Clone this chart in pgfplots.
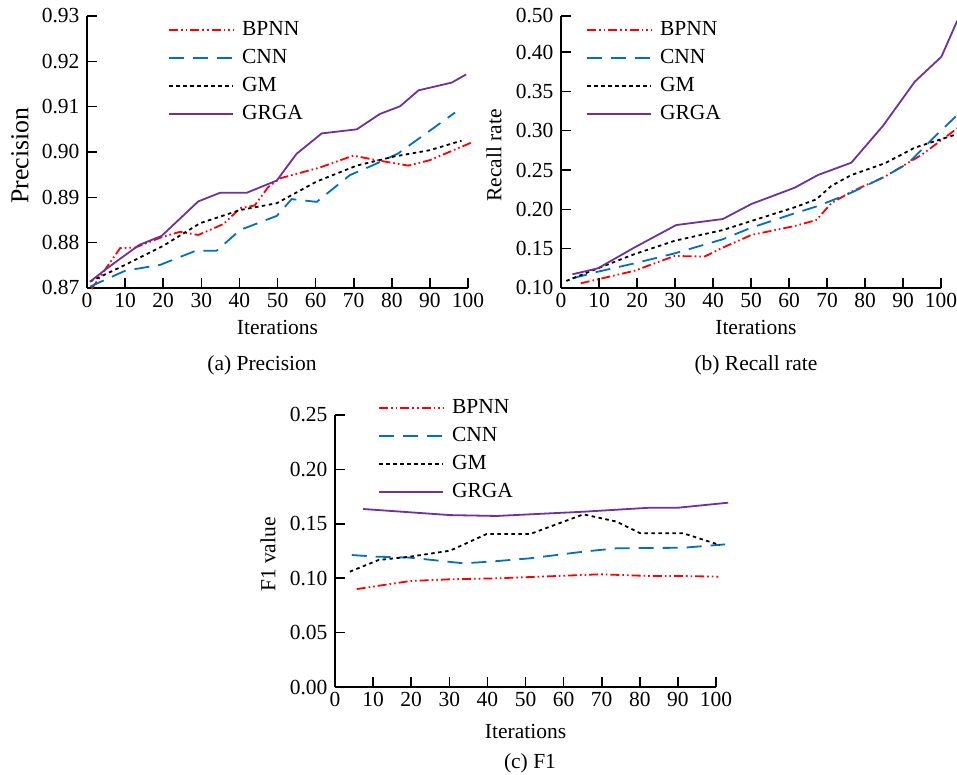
\documentclass[border=0pt]{standalone}
\usepackage{fontspec}
\setmainfont{Liberation Serif}
\usepackage{pgfplots}
\pgfplotsset{compat=1.18}

\definecolor{cR}{RGB}{255,0,0}
\definecolor{cB}{RGB}{0,112,192}
\definecolor{cP}{RGB}{112,48,160}

\newcommand{\fnt}{\fontsize{21.5pt}{26pt}\selectfont}

\pgfplotsset{
  panel/.style={
    scale only axis, width=381pt, height=272pt,
    axis lines=left, axis line style={-, line width=1.6pt, black},
    tick align=inside, major tick length=10pt,
    tick style={black, line width=1.6pt},
    xmin=0, xmax=100,
    xtick={0,10,20,30,40,50,60,70,80,90,100},
    xticklabels={0,10,20,30,40,50,60,70,80,90,100},
    clip=false,
    font=\fnt,
    tick label style={font=\fnt},
    xticklabel style={yshift=-2pt},
    yticklabel style={xshift=-4pt},
    legend cell align=left,
    legend style={draw=none, fill=none, inner sep=0pt, column sep=8pt,
      row sep=7pt, anchor=north west,
      nodes={inner sep=0pt, text height=16pt, text depth=5pt}},
    legend image code/.code={\draw[##1] (0pt,0pt) -- (64pt,0pt);},
    xlabel=Iterations,
    xlabel style={at={(axis description cs:0.5,-0.147)}, anchor=center},
    ylabel style={at={(axis description cs:-0.176,0.487)}, anchor=center},
  },
  bp/.style={cR, line width=1.8pt, dash pattern=on 9pt off 3pt on 1.6pt off 3pt on 1.6pt off 3pt},
  cn/.style={cB, line width=1.8pt, dash pattern=on 15pt off 9pt},
  gm/.style={black, line width=1.8pt, dash pattern=on 3.5pt off 3.5pt},
  gr/.style={cP, line width=1.8pt},
}

\begin{document}
\begin{tikzpicture}

% (a) Precision
\begin{axis}[panel, at={(87pt,486pt)},
  ymin=0.87, ymax=0.93,
  ytick={0.87,0.88,0.89,0.90,0.91,0.92,0.93},
  yticklabels={0.87,0.88,0.89,0.90,0.91,0.92,0.93},
  ylabel={Precision},
  ylabel style={font=\fontsize{25.8pt}{30pt}\selectfont},
  legend style={at={(axis description cs:0.2126,0.987)}},
]
\addplot[bp] coordinates {(1.2,0.8698)(8.7,0.8788)(12.6,0.8789)(19.6,0.8812)(24.4,0.8824)(29.2,0.8817)(35.8,0.8841)(40.2,0.8876)(44,0.8882)(47.6,0.8923)(50.7,0.8942)(61.2,0.8966)(69.9,0.8992)(76,0.8982)(84.3,0.8970)(90,0.8982)(96.2,0.9004)(101.2,0.9022)};
\addplot[cn] coordinates {(0.8,0.8703)(10,0.8738)(19.2,0.8751)(28.5,0.8782)(34,0.8782)(40.2,0.8828)(49.8,0.8859)(53.7,0.8896)(60.3,0.8890)(69,0.8949)(75.1,0.8971)(81.7,0.8997)(96.6,0.9087)};
\addplot[gm] coordinates {(0.8,0.8714)(10,0.8751)(20,0.8793)(29.7,0.8843)(40.2,0.8872)(49.8,0.8887)(60.3,0.8935)(70.8,0.8970)(80.6,0.8990)(90,0.9004)(98.3,0.9025)};
\addplot[gr] coordinates {(0.8,0.8714)(5.2,0.8743)(13.7,0.8795)(19.6,0.8815)(29.2,0.8891)(34.9,0.8910)(41.9,0.8910)(49.8,0.8937)(55,0.8996)(61.6,0.9041)(70.8,0.9050)(76.9,0.9084)(82.2,0.9101)(87,0.9136)(95.7,0.9153)(99.5,0.9171)};
\legend{BPNN, CNN, GM, GRGA}
\end{axis}

% (b) Recall rate
\begin{axis}[panel, at={(561pt,486pt)}, width=380pt,
  ymin=0.10, ymax=0.4458,
  ytick={0.10,0.15,0.20,0.25,0.30,0.35,0.40,0.4458},
  yticklabels={0.10,0.15,0.20,0.25,0.30,0.35,0.40,0.50},
  ylabel={Recall rate},
  xlabel style={at={(axis description cs:0.513,-0.147)}},
  legend style={at={(axis description cs:0.0658,0.987)}},
]
\addplot[bp] coordinates {(5.2,0.106)(9.7,0.111)(19.4,0.122)(29.9,0.1407)(37.8,0.140)(42.2,0.1505)(50.1,0.1674)(61.5,0.1788)(67.2,0.1864)(71.1,0.2077)(76.4,0.2224)(85.2,0.2415)(94.8,0.269)(104.3,0.303)};
\addplot[cn] coordinates {(3,0.1123)(9.7,0.1207)(19.4,0.1314)(29.9,0.144)(42.6,0.162)(50.1,0.1767)(61.5,0.195)(67.6,0.2042)(76.4,0.2212)(85.2,0.2415)(91.3,0.2585)(94.8,0.2754)(98.3,0.2923)(104.3,0.32)};
\addplot[gm] coordinates {(1.4,0.109)(9.7,0.125)(19.4,0.1432)(29.9,0.160)(42.6,0.1737)(50.1,0.1852)(61.5,0.2026)(67.2,0.2127)(71.1,0.2297)(76.4,0.2436)(85.2,0.2585)(93.1,0.2784)(104.3,0.2957)};
\addplot[gr] coordinates {(3.0,0.1174)(9.7,0.125)(19.4,0.1517)(30.3,0.180)(42.6,0.1877)(50.1,0.2068)(61.5,0.2275)(67.6,0.2436)(76.4,0.2593)(84.7,0.306)(93.1,0.3623)(100.1,0.394)(104.3,0.440)};
\legend{BPNN, CNN, GM, GRGA}
\end{axis}

% (c) F1
\begin{axis}[panel, at={(335pt,87pt)},
  ymin=0, ymax=0.25,
  ytick={0,0.05,0.10,0.15,0.20,0.25},
  yticklabels={0.00,0.05,0.10,0.15,0.20,0.25},
  ylabel={F1 value},
  xlabel style={at={(axis description cs:0.5,-0.162)}},
  legend style={at={(axis description cs:0.113,1.064)}},
]
\addplot[bp] coordinates {(5.7,0.090)(19.7,0.0974)(30.2,0.0990)(42.4,0.0999)(53.8,0.1014)(69.6,0.1036)(82.7,0.1020)(91.4,0.1020)(100.6,0.1014)};
\addplot[cn] coordinates {(4.4,0.1213)(10.9,0.1198)(19.7,0.1189)(33.7,0.1137)(40.7,0.1152)(51.2,0.1183)(65.2,0.1244)(73.9,0.1275)(91.4,0.1280)(102.4,0.1311)};
\addplot[gm] coordinates {(3.9,0.106)(11.4,0.1167)(19.7,0.1198)(30.2,0.1253)(39.8,0.1406)(51.2,0.1406)(65.2,0.1587)(73.9,0.1520)(80.1,0.1413)(91.4,0.1413)(101,0.1305)};
\addplot[gr] coordinates {(7.4,0.1636)(30.2,0.1580)(42.4,0.1572)(65.2,0.1611)(82.7,0.1648)(90.1,0.1648)(103.2,0.1694)};
\legend{BPNN, CNN, GM, GRGA}
\end{axis}

\node[font=\fnt] at (262pt,409pt) {(a) Precision};
\node[font=\fnt] at (756pt,409pt) {(b) Recall rate};
\node[font=\fnt] at (530pt,11pt) {(c) F1};

\pgfresetboundingbox
\path[use as bounding box] (0,0) rectangle (957pt,774pt);
\end{tikzpicture}
\end{document}
